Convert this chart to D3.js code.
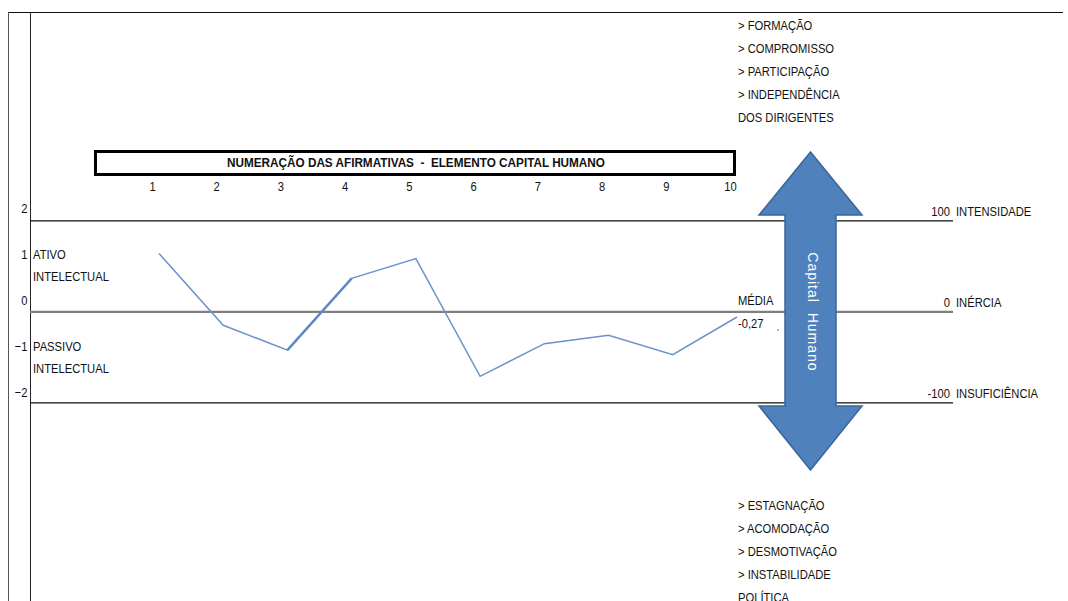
<!DOCTYPE html>
<html>
<head>
<meta charset="utf-8">
<script src="https://cdn.jsdelivr.net/npm/d3@7"></script>
<style>
  html, body { margin: 0; padding: 0; background: #fff; }
  svg { display: block; }
  text { font-family: "Liberation Sans", Arial, sans-serif; font-size: 13.5px; }
</style>
</head>
<body>
<svg id="chart" width="1068" height="601"></svg>
<script>
// Statement numbers and their average scores (Capital Humano element)
const statements = [1, 2, 3, 4, 5, 6, 7, 8, 9, 10];
const scores = [1.0, -0.56, -1.10, 0.46, 0.89, -1.67, -0.96, -0.78, -1.20, -0.38];
const meanScore = -0.27;
const meanLabel = "-0,27";

// Left score ticks and side captions
const scoreTicks = [2, 1, 0, -1, -2];
const activeCaption = ["ATIVO", "INTELECTUAL"];
const passiveCaption = ["PASSIVO", "INTELECTUAL"];

// Right-hand intensity levels
const levelValues = [100, 0, -100];
const levelNames = ["INTENSIDADE", "INÉRCIA", "INSUFICIÊNCIA"];

// Factor lists above and below the arrow
const upperFactors = ["> FORMAÇÃO", "> COMPROMISSO", "> PARTICIPAÇÃO", "> INDEPENDÊNCIA", "DOS DIRIGENTES"];
const lowerFactors = ["> ESTAGNAÇÃO", "> ACOMODAÇÃO", "> DESMOTIVAÇÃO", "> INSTABILIDADE", "POLÍTICA"];

const titleText = "NUMERAÇÃO DAS AFIRMATIVAS  -  ELEMENTO CAPITAL HUMANO";

const INK = "#111";
const NARROW = 0.83;   // horizontal squeeze giving a condensed face

const svg = d3.select("#chart");

// Places a condensed text label at (x, y)
function label(parent, x, y, str, anchor = "start", sx = NARROW) {
  return parent.append("text")
    .attr("transform", `translate(${x},${y}) scale(${sx},1)`)
    .attr("text-anchor", anchor)
    .style("fill", INK)
    .style("white-space", "pre")
    .text(str);
}

// Scales
const x = d3.scaleLinear().domain([1, 10]).range([159, 737]);
const y = d3.scaleLinear().domain([-2, 2]).range([391.5, 207.5]);
const yLevel = d3.scaleLinear().domain([-100, 100])
  .range([y(meanScore) + 91, y(meanScore) - 91]);

// Sheet frame lines
svg.append("line").attr("x1", 8).attr("x2", 1063).attr("y1", 12.5).attr("y2", 12.5)
  .attr("stroke", "#111").attr("stroke-width", 1.2);
svg.append("line").attr("x1", 8.5).attr("x2", 8.5).attr("y1", 12).attr("y2", 601)
  .attr("stroke", "#555").attr("stroke-width", 1);
svg.append("line").attr("x1", 30.5).attr("x2", 30.5).attr("y1", 12).attr("y2", 601)
  .attr("stroke", "#222").attr("stroke-width", 1);

// Level lines (100 / 0 / -100)
const levelG = svg.append("g");
levelG.selectAll("line").data(levelValues).join("line")
  .attr("x1", 30).attr("x2", 953)
  .attr("y1", d => yLevel(d)).attr("y2", d => yLevel(d))
  .attr("stroke", d => d === 0 ? "#7f7f7f" : "#111")
  .attr("stroke-width", d => d === 0 ? 2.2 : 1.1);
levelValues.forEach((v, i) => {
  label(levelG, 950, yLevel(v) - 5, String(v), "end");
  label(levelG, 956, yLevel(v) - 5, levelNames[i]);
});

// Title box
svg.append("rect").attr("x", 95.5).attr("y", 151.5).attr("width", 639).attr("height", 23)
  .attr("fill", "#fff").attr("stroke", "#000").attr("stroke-width", 3);
label(svg, 416, 167, titleText, "middle", 0.87).attr("font-weight", "bold");

// Statement number axis (labels only)
const xAxis = d3.axisTop(x).tickValues(statements).tickSize(0).tickPadding(0);
const axG = svg.append("g").attr("transform", "translate(-7,191)").call(xAxis);
axG.select(".domain").remove();
axG.selectAll("text").attr("y", 0).attr("dy", 0)
  .attr("transform", `scale(${NARROW},1)`)
  .style("font-family", "\"Liberation Sans\", Arial, sans-serif")
  .style("font-size", "13.5px").style("fill", INK);

// Score axis (labels only)
const yAxis = d3.axisLeft(y).tickValues(scoreTicks).tickSize(0).tickPadding(0)
  .tickFormat(d3.format("d"));
const ayG = svg.append("g").attr("transform", "translate(27.5,0)").call(yAxis);
ayG.select(".domain").remove();
ayG.selectAll("text").attr("dy", "0.35em").attr("x", 0)
  .attr("transform", `scale(${NARROW},1)`)
  .style("font-family", "\"Liberation Sans\", Arial, sans-serif")
  .style("font-size", "13.5px").style("fill", INK);

// Side captions
[[activeCaption, 1], [passiveCaption, -1]].forEach(([lines, v]) => {
  lines.forEach((str, i) => label(svg, 33, y(v) + 5.5 + i * 22, str));
});

// Score line
const line = d3.line().x(d => x(d[0])).y(d => y(d[1]));
const pts = statements.map((s, i) => [s, scores[i]]);
svg.append("path").datum(pts)
  .attr("d", line)
  .attr("fill", "none").attr("stroke", "#6b92c9").attr("stroke-width", 1.5)
  .attr("stroke-linejoin", "miter");
// heavier stroke on the rise from statement 3 to 4
svg.append("path").datum(pts.slice(2, 4))
  .attr("d", line)
  .attr("fill", "none").attr("stroke", "#5f89c4").attr("stroke-width", 2.4);

// Mean label
label(svg, 738, y(meanScore) - 7, "MÉDIA");
label(svg, 738, y(meanScore) + 16, meanLabel);
svg.append("circle").attr("cx", 778).attr("cy", y(meanScore) + 18).attr("r", 0.8)
  .attr("fill", "#5a7fb5");

// Double-headed arrow
const ax = 810.5, headHalf = 51.5, shaftHalf = 25.5;
const topTip = 152, topBase = 215, botBase = 406, botTip = 470;
const arrowPts = [
  [ax, topTip], [ax + headHalf, topBase], [ax + shaftHalf, topBase],
  [ax + shaftHalf, botBase], [ax + headHalf, botBase], [ax, botTip],
  [ax - headHalf, botBase], [ax - shaftHalf, botBase], [ax - shaftHalf, topBase],
  [ax - headHalf, topBase]
];
svg.append("path")
  .attr("d", d3.line()(arrowPts) + "Z")
  .attr("fill", "#4f81bd").attr("stroke", "#3a659a").attr("stroke-width", 1.5)
  .attr("stroke-linejoin", "miter");
svg.append("text")
  .attr("transform", `translate(${ax + 2},${y(meanScore)}) rotate(90)`)
  .attr("text-anchor", "middle").attr("dy", "0.35em")
  .style("font-size", "14px").style("letter-spacing", "1px").style("white-space", "pre")
  .style("fill", "#fff")
  .text("Capital  Humano");

// Factor lists
upperFactors.forEach((str, i) => label(svg, 738, 29.5 + i * 23, str));
lowerFactors.forEach((str, i) => label(svg, 738, 510 + i * 23, str));
</script>
</body>
</html>
